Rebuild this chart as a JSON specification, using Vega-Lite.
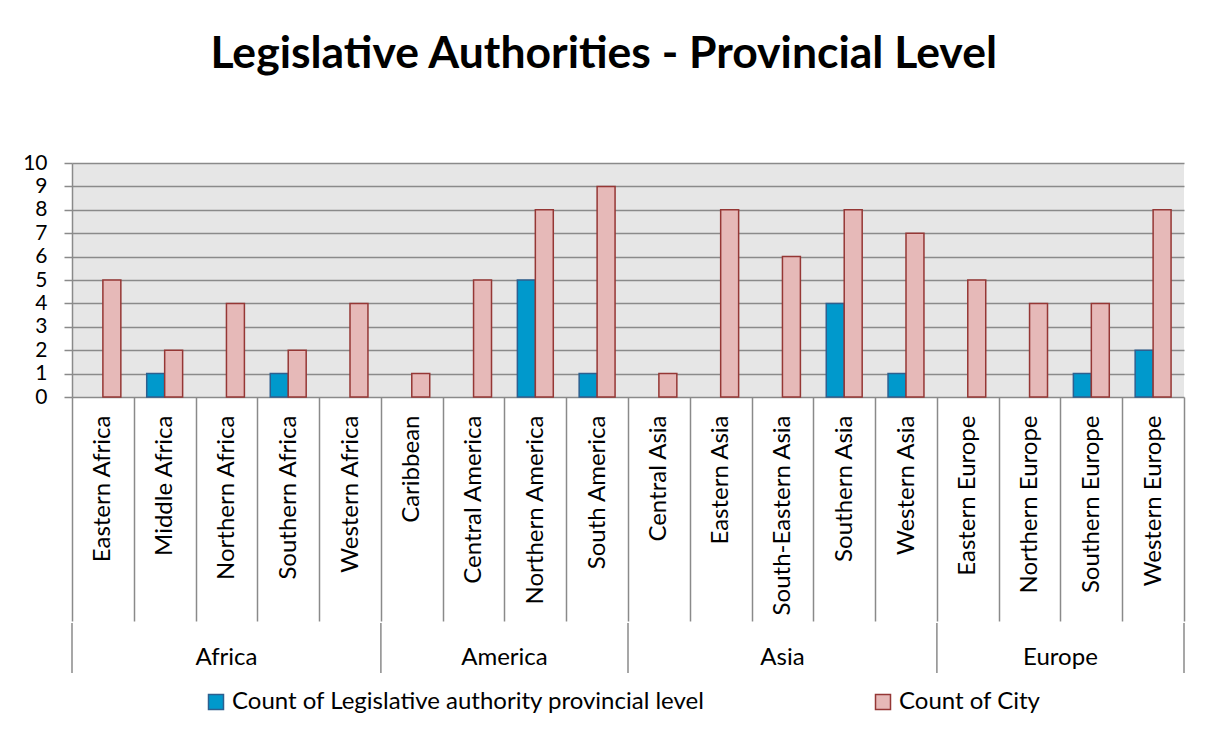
{
  "$schema": "https://vega.github.io/schema/vega-lite/v6.json",
  "background": "white",
  "padding": {"left": 22, "top": 31, "right": 25, "bottom": 10},
  "title": {
    "text": "Legislative Authorities - Provincial Level",
    "font": "Lato",
    "fontSize": 44.5,
    "fontWeight": "bold",
    "color": "black",
    "anchor": "middle",
    "frame": "bounds",
    "offset": 75
  },
  "config": {
    "font": "Lato",
    "view": {"stroke": "transparent", "strokeWidth": 0},
    "style": {"cell": {"stroke": "transparent", "strokeWidth": 0}},
    "axis": {"domain": false, "ticks": false, "grid": false}
  },
  "spacing": 0,
  "datasets": {
    "bars": [
      {"subregion": "Eastern Africa", "series": "Count of City", "count": 5},
      {"subregion": "Middle Africa", "series": "Count of Legislative authority provincial level", "count": 1},
      {"subregion": "Middle Africa", "series": "Count of City", "count": 2},
      {"subregion": "Northern Africa", "series": "Count of City", "count": 4},
      {"subregion": "Southern Africa", "series": "Count of Legislative authority provincial level", "count": 1},
      {"subregion": "Southern Africa", "series": "Count of City", "count": 2},
      {"subregion": "Western Africa", "series": "Count of City", "count": 4},
      {"subregion": "Caribbean", "series": "Count of City", "count": 1},
      {"subregion": "Central America", "series": "Count of City", "count": 5},
      {"subregion": "Northern America", "series": "Count of Legislative authority provincial level", "count": 5},
      {"subregion": "Northern America", "series": "Count of City", "count": 8},
      {"subregion": "South America", "series": "Count of Legislative authority provincial level", "count": 1},
      {"subregion": "South America", "series": "Count of City", "count": 9},
      {"subregion": "Central Asia", "series": "Count of City", "count": 1},
      {"subregion": "Eastern Asia", "series": "Count of City", "count": 8},
      {"subregion": "South-Eastern Asia", "series": "Count of City", "count": 6},
      {"subregion": "Southern Asia", "series": "Count of Legislative authority provincial level", "count": 4},
      {"subregion": "Southern Asia", "series": "Count of City", "count": 8},
      {"subregion": "Western Asia", "series": "Count of Legislative authority provincial level", "count": 1},
      {"subregion": "Western Asia", "series": "Count of City", "count": 7},
      {"subregion": "Eastern Europe", "series": "Count of City", "count": 5},
      {"subregion": "Northern Europe", "series": "Count of City", "count": 4},
      {"subregion": "Southern Europe", "series": "Count of Legislative authority provincial level", "count": 1},
      {"subregion": "Southern Europe", "series": "Count of City", "count": 4},
      {"subregion": "Western Europe", "series": "Count of Legislative authority provincial level", "count": 2},
      {"subregion": "Western Europe", "series": "Count of City", "count": 8}
    ],
    "groups": [
      {"region": "Africa", "first": "Eastern Africa", "mid": "Northern Africa", "size": "odd"},
      {"region": "America", "first": "Caribbean", "mid": "Northern America", "size": "even"},
      {"region": "Asia", "first": "Central Asia", "mid": "South-Eastern Asia", "size": "odd"},
      {"region": "Europe", "first": "Eastern Europe", "mid": "Southern Europe", "size": "even"}
    ],
    "last": [{"sub": "Western Europe"}]
  },
  "vconcat": [
    {
      "width": 1112,
      "height": 234,
      "view": {"fill": "#e6e6e6", "stroke": "transparent", "strokeWidth": 0},
      "data": {"name": "bars"},
      "mark": {"type": "bar", "strokeWidth": 1.5},
      "encoding": {
        "x": {
          "field": "subregion",
          "type": "nominal",
          "sort": null,
          "scale": {
            "domain": ["Eastern Africa", "Middle Africa", "Northern Africa", "Southern Africa", "Western Africa", "Caribbean", "Central America", "Northern America", "South America", "Central Asia", "Eastern Asia", "South-Eastern Asia", "Southern Asia", "Western Asia", "Eastern Europe", "Northern Europe", "Southern Europe", "Western Europe"],
            "paddingInner": 0,
            "paddingOuter": 0
          },
          "axis": {
            "title": null,
            "grid": false,
            "domain": false,
            "ticks": true,
            "tickBand": "extent",
            "tickSize": 224,
            "tickColor": "#8a8a8a",
            "tickWidth": 1.5,
            "labelAngle": -90,
            "labelAlign": "right",
            "labelBaseline": "middle",
            "labelPadding": -206,
            "labelFontSize": 24,
            "labelColor": "black",
            "labelLimit": 400,
            "labelOverlap": false
          }
        },
        "xOffset": {
          "field": "series",
          "type": "nominal",
          "scale": {
            "domain": ["Count of Legislative authority provincial level", "Count of City"],
            "paddingInner": 0,
            "paddingOuter": 0.72
          }
        },
        "y": {
          "field": "count",
          "type": "quantitative",
          "scale": {"domain": [0, 10], "nice": false},
          "axis": {
            "title": null,
            "values": [0, 1, 2, 3, 4, 5, 6, 7, 8, 9, 10],
            "grid": true,
            "gridColor": "#8a8a8a",
            "gridWidth": 1.5,
            "domain": true,
            "domainColor": "#8a8a8a",
            "domainWidth": 1.5,
            "ticks": true,
            "tickColor": "#8a8a8a",
            "tickWidth": 1.5,
            "tickSize": 8,
            "labelFontSize": 21,
            "labelColor": "black",
            "labelPadding": 17
          }
        },
        "fill": {
          "field": "series",
          "type": "nominal",
          "scale": {
            "domain": ["Count of Legislative authority provincial level", "Count of City"],
            "range": ["#0099cc", "#e6b9b8"]
          },
          "legend": {
            "title": null,
            "orient": "none",
            "legendX": 132,
            "legendY": 527,
            "direction": "horizontal",
            "symbolType": "square",
            "symbolSize": 225,
            "symbolStrokeWidth": 1.5,
            "labelFontSize": 24,
            "labelColor": "black",
            "labelLimit": 800,
            "columnPadding": 166
          }
        },
        "stroke": {
          "field": "series",
          "type": "nominal",
          "scale": {
            "domain": ["Count of Legislative authority provincial level", "Count of City"],
            "range": ["#2e5f8f", "#953735"]
          },
          "legend": {
            "title": null,
            "orient": "none",
            "legendX": 132,
            "legendY": 527,
            "direction": "horizontal",
            "symbolType": "square",
            "symbolSize": 225,
            "symbolStrokeWidth": 1.5,
            "labelFontSize": 24,
            "labelColor": "black",
            "labelLimit": 800,
            "columnPadding": 166
          }
        }
      }
    },
    {
      "width": 1112,
      "height": 50,
      "view": {"stroke": "transparent", "strokeWidth": 0},
      "layer": [
        {
          "data": {"name": "groups"},
          "mark": {"type": "rule", "color": "#8a8a8a", "strokeWidth": 1.5},
          "encoding": {
            "x": {
              "field": "first",
              "type": "nominal",
              "bandPosition": 0,
              "scale": {
                "domain": ["Eastern Africa", "Middle Africa", "Northern Africa", "Southern Africa", "Western Africa", "Caribbean", "Central America", "Northern America", "South America", "Central Asia", "Eastern Asia", "South-Eastern Asia", "Southern Asia", "Western Asia", "Eastern Europe", "Northern Europe", "Southern Europe", "Western Europe"],
                "paddingInner": 0,
                "paddingOuter": 0
              },
              "axis": null
            },
            "y": {"datum": 0, "type": "quantitative", "scale": {"domain": [0, 1], "nice": false}, "axis": null},
            "y2": {"datum": 1}
          }
        },
        {
          "data": {"name": "last"},
          "mark": {"type": "rule", "color": "#8a8a8a", "strokeWidth": 1.5},
          "encoding": {
            "x": {"field": "sub", "type": "nominal", "bandPosition": 1, "axis": null},
            "y": {"datum": 0, "type": "quantitative", "axis": null},
            "y2": {"datum": 1}
          }
        },
        {
          "data": {"name": "groups"},
          "transform": [{"filter": "datum.size == 'odd'"}],
          "mark": {"type": "text", "fontSize": 24, "color": "black", "baseline": "middle"},
          "encoding": {
            "x": {"field": "mid", "type": "nominal", "bandPosition": 0.5, "axis": null},
            "y": {"datum": 0.3, "type": "quantitative", "axis": null},
            "text": {"field": "region"}
          }
        },
        {
          "data": {"name": "groups"},
          "transform": [{"filter": "datum.size == 'even'"}],
          "mark": {"type": "text", "fontSize": 24, "color": "black", "baseline": "middle"},
          "encoding": {
            "x": {"field": "mid", "type": "nominal", "bandPosition": 0, "axis": null},
            "y": {"datum": 0.3, "type": "quantitative", "axis": null},
            "text": {"field": "region"}
          }
        }
      ]
    }
  ]
}
